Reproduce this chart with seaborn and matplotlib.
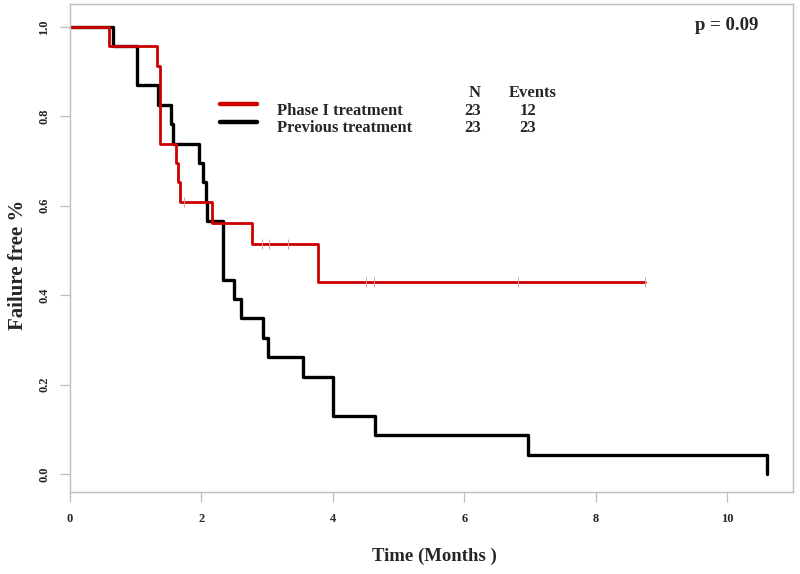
import matplotlib
matplotlib.use("Agg")
import matplotlib.pyplot as plt
from matplotlib.lines import Line2D
import seaborn as sns
import pandas as pd

# --- values ---
phase1_time = [0, 0.59, 1.33, 1.37, 1.61, 1.64, 1.67, 2.16, 2.77, 3.77, 8.75]
phase1_surv = [1.0, 0.957, 0.913, 0.739, 0.696, 0.652, 0.609, 0.562, 0.515, 0.429, 0.429]
phase1_cens_time = [1.74, 2.92, 3.03, 3.32, 4.51, 4.63, 6.82, 8.75]
phase1_cens_surv = [0.609, 0.515, 0.515, 0.515, 0.429, 0.429, 0.429, 0.429]

prev_time = [0, 0.65, 1.02, 1.34, 1.54, 1.57, 1.96, 2.02, 2.07, 2.09, 2.33,
             2.50, 2.60, 2.94, 3.01, 3.55, 4.00, 4.64, 6.97, 10.61]
prev_surv = [1.0, 0.957, 0.870, 0.826, 0.783, 0.739, 0.696, 0.652, 0.609, 0.565, 0.435,
             0.391, 0.348, 0.304, 0.261, 0.217, 0.130, 0.087, 0.043, 0.0]

groups = ["Phase I treatment", "Previous treatment"]
n_patients = [23, 23]
n_events = [12, 23]
p_value = 0.09

x_ticks = [0, 2, 4, 6, 8, 10]
y_ticks = [0.0, 0.2, 0.4, 0.6, 0.8, 1.0]

# --- style ---
RED = "#cc0000"
GREY = "#bdbdbd"
sns.set_style("white")
plt.rcParams["font.family"] = ["Liberation Serif", "DejaVu Serif"]
plt.rcParams["font.weight"] = "bold"

W, H = 800, 574
fig = plt.figure(figsize=(W / 100, H / 100), dpi=100)
ax = fig.add_axes([70 / W, 1 - 492 / H, 723 / W, 488 / H])


def fx(x):
    return x / W


def fy(y):
    return 1 - y / H


df1 = pd.DataFrame({"time": phase1_time, "surv": phase1_surv})
df2 = pd.DataFrame({"time": prev_time, "surv": prev_surv})

sns.lineplot(data=df2, x="time", y="surv", estimator=None, sort=False,
             drawstyle="steps-post", color="black", linewidth=2.4, ax=ax)
sns.lineplot(data=df1, x="time", y="surv", estimator=None, sort=False,
             drawstyle="steps-post", color=RED, linewidth=2.0, ax=ax)
sns.scatterplot(x=phase1_cens_time, y=phase1_cens_surv, marker="|", s=50,
                color="#dc9a9a", linewidth=0.7, ax=ax, zorder=3)

ax.set_xlim(0, 11.0)
ax.set_ylim(-0.04, 1.051)
ax.set_xticks(x_ticks)
ax.set_xticklabels([str(t) for t in x_ticks])
ax.set_yticks(y_ticks)
ax.set_yticklabels([f"{t:.1f}" for t in y_ticks], rotation=90, va="center")
ax.tick_params(axis="both", direction="out", length=7.2, width=0.9,
               color=GREY, labelsize=9, bottom=True, left=True)
ax.tick_params(axis="x", pad=8)
ax.tick_params(axis="y", pad=7)
for sp in ax.spines.values():
    sp.set_color(GREY)
    sp.set_linewidth(1.0)
ax.set_xlabel("")
ax.set_ylabel("")

fig.text(fx(434), fy(556), "Time (Months )", ha="center", va="center",
         fontsize=13.5, fontweight="bold")
fig.text(fx(18), fy(265), "Failure free %", ha="center", va="center",
         rotation=90, fontsize=15, fontweight="bold")

# --- legend with N / Events table ---
colors = [RED, "black"]
rows_y = [111, 128]
line_y = [104, 122]
fig.text(fx(475), fy(93), "N", ha="center", va="center", fontsize=12, fontweight="bold")
fig.text(fx(533), fy(93), "Events", ha="center", va="center", fontsize=12, fontweight="bold")
for g, n, e, c, ry, ly in zip(groups, n_patients, n_events, colors, rows_y, line_y):
    fig.add_artist(Line2D([fx(220), fx(257)], [fy(ly), fy(ly)], color=c, lw=3.2,
                          transform=fig.transFigure))
    fig.text(fx(277), fy(ry), g, ha="left", va="center", fontsize=12, fontweight="bold")
    fig.text(fx(473), fy(ry), str(n), ha="center", va="center", fontsize=12, fontweight="bold")
    fig.text(fx(528), fy(ry), str(e), ha="center", va="center", fontsize=12, fontweight="bold")

fig.text(fx(727), fy(25), f"p = {p_value:.2f}", ha="center", va="center",
         fontsize=13.5, fontweight="bold")

fig.savefig("out.png", dpi=100)
